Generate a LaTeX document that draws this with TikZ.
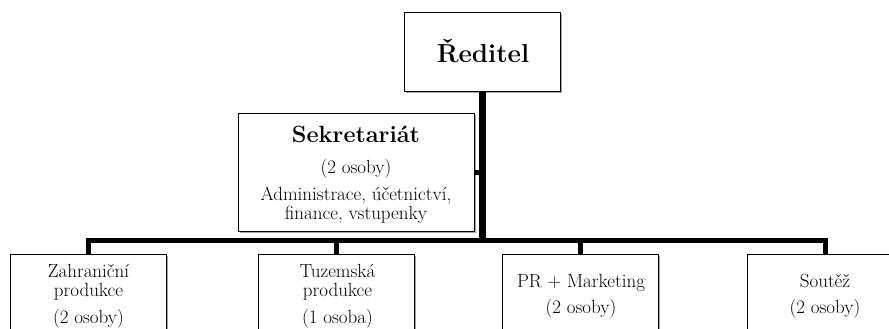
\documentclass[tikz,border=0pt]{standalone}
\usetikzlibrary{shadows}
\begin{document}
\begin{tikzpicture}[x=1pt,y=-1pt,
  box/.style={draw=black, line width=1pt, fill=white, rectangle, inner sep=0pt,
    drop shadow={shadow xshift=1.5pt, shadow yshift=-1.5pt, opacity=0.35, fill=black}},
  unit/.style={box, minimum width=156pt, minimum height=100pt, anchor=north},
  txt/.style={anchor=base, inner sep=0pt, font=\fontsize{19}{18}\selectfont},
  conn/.style={line width=5pt, black, line join=miter},
]
\useasboundingbox (0,0) rectangle (889,329);
\clip (0,0) rectangle (889,329);

% boxes
\node[box, minimum width=156pt, minimum height=78pt] (red) at (482,52) {};
\node[box, minimum width=236pt, minimum height=118pt] (sek) at (356,172) {};
\node[unit] (b1) at (88,254) {};
\node[unit] (b2) at (336.5,254) {};
\node[unit] (b3) at (580.5,254) {};
\node[unit] (b4) at (825,254) {};

% texts
\node[txt, font=\fontsize{26}{30}\selectfont\bfseries] (redt) at (483,63) {Ředitel};
\node[txt, font=\fontsize{23.5}{26}\selectfont\bfseries] (sek1) at (356,142) {Sekretariát};
\node[txt] (sek2) at (356,173) {(2 osoby)};
\node[txt] (sek3) at (356,200.5) {Administrace, účetnictví,};
\node[txt] (sek4) at (356,219.5) {finance, vstupenky};

\node[txt] (b1a) at (88.5,277) {Zahraniční};
\node[txt] (b1b) at (88.5,296) {produkce};
\node[txt] (b1c) at (88.5,323) {(2 osoby)};

\node[txt] (b2a) at (337.5,277) {Tuzemská};
\node[txt] (b2b) at (337.5,296) {produkce};
\node[txt] (b2c) at (337.5,323) {(1 osoba)};

\node[txt] (b3a) at (581,287) {PR + Marketing};
\node[txt] (b3b) at (581,313) {(2 osoby)};

\node[txt] (b4a) at (825,287) {Soutěž};
\node[txt] (b4b) at (825,313) {(2 osoby)};

% connectors
\coordinate (hub) at (483,240.5);
\draw[conn, line width=7pt] (red.south) -- (red.south |- hub);
\draw[conn] (b1.north) |- (hub) -| (b4.north);
\draw[conn] (b2.north) -- (b2.north |- hub);
\draw[conn] (b3.north) -- (b3.north |- hub);
\draw[conn] (sek.east) -- (sek.east -| red.south);
\end{tikzpicture}
\end{document}
